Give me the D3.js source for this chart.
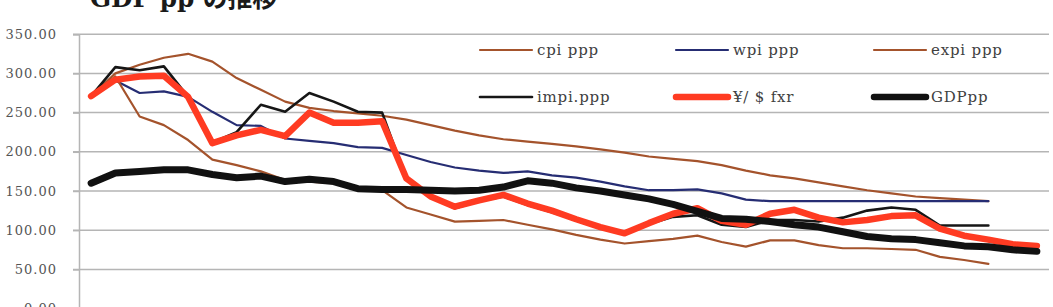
<!DOCTYPE html>
<html><head><meta charset="utf-8">
<script src="https://cdn.jsdelivr.net/npm/d3@7"></script>
<style>body{margin:0;background:#fff}svg{display:block}</style>
</head><body>
<svg id="c" width="1053" height="307"></svg>
<script>
const categories = d3.range(1970, 2010).map(String);
const cpi  = [271,300,311,320,325,315,294,279,264,256,252,249,246,241,234,227,221,216,213,210,207,203,199,194,191,188,183,176,170,166,161,156,151,147,143,141,139,137];
const wpi  = [271,291,275,277,270,251,234,233,217,214,211,206,205,196,187,180,176,173,175,170,167,162,156,151,151,152,147,139,137,137,137,137,137,137,137,137,137,137];
const expi = [271,296,245,234,215,190,183,175,164,162,160,155,151,129,120,111,112,113,107,101,94,88,83,86,89,93,85,79,87,87,81,77,77,76,75,66,62,57];
const impi = [271,308,304,309,270,212,225,260,251,275,264,251,250,165,142,128,137,143,132,123,113,103,95,108,117,119,107,104,113,113,111,116,125,129,126,106,106,106];
const fxr  = [271,292,296,297,270,211,221,228,220,250,237,237,239,166,143,130,138,145,134,125,114,104,96,109,121,128,112,107,121,126,116,110,113,118,119,102,93,88,82,80];
const gdp  = [160,173,175,177,177,171,167,169,162,165,162,153,152,152,151,150,151,155,163,160,154,150,145,140,133,124,115,114,111,107,104,98,92,89,88,84,80,79,75,73];
const yTicks = [0,50,100,150,200,250,300,350];
const seriesNames = ["cpi ppp","wpi ppp","expi ppp","impi.ppp","¥/ $ fxr","GDPpp"];

const series = [
  {name: seriesNames[0], values: cpi,  color: "#a4532c", width: 2.2},
  {name: seriesNames[1], values: wpi,  color: "#262d73", width: 2.2},
  {name: seriesNames[2], values: expi, color: "#a4532c", width: 2.2},
  {name: seriesNames[3], values: impi, color: "#161616", width: 2.6},
  {name: seriesNames[4], values: fxr,  color: "#ff3b22", width: 6.5},
  {name: seriesNames[5], values: gdp,  color: "#111111", width: 7}
];

const svg = d3.select("#c");
const pLeft = 79, pRight = 1049, pTop = 34.2, pBottom = 308.6;
const x = d3.scaleBand().domain(categories).range([pLeft, pRight]);
const y = d3.scaleLinear().domain([0, 350]).range([pBottom, pTop]);
const cx = i => x(categories[i]) + x.bandwidth() / 2;

// title (cut off at top)
svg.append("text").attr("x", 90).attr("y", 7)
  .attr("font-family", "'DejaVu Serif','Noto Sans CJK JP',serif")
  .attr("font-weight", "bold").attr("font-size", 26).attr("fill", "#1a1a1a")
  .attr("textLength", 187).attr("lengthAdjust", "spacingAndGlyphs")
  .text("GDP pp の推移");

// gridlines
svg.append("g").selectAll("line").data(yTicks.filter(d => d > 0)).join("line")
  .attr("x1", pLeft - 6).attr("x2", pRight)
  .attr("y1", d => y(d)).attr("y2", d => y(d))
  .attr("stroke", "#b5b5b5").attr("stroke-width", 1.5);

// y axis
const yAxis = d3.axisLeft(y).tickValues(yTicks).tickFormat(d3.format(".2f")).tickSize(6).tickPadding(16);
const ga = svg.append("g").attr("transform", `translate(${pLeft},0)`).call(yAxis);
ga.select(".domain").attr("stroke", "#b5b5b5").attr("stroke-width", 1.5);
ga.selectAll(".tick line").attr("stroke", "#b5b5b5").attr("stroke-width", 1.5);
ga.selectAll(".tick text").attr("font-family", "'DejaVu Serif',serif").attr("font-size", 13)
  .attr("letter-spacing", "1px").attr("fill", "#555");

// lines
const line = d3.line().x((d, i) => cx(i)).y(d => y(d));
svg.append("g").selectAll("path").data(series).join("path")
  .attr("d", d => line(d.values))
  .attr("fill", "none").attr("stroke", d => d.color).attr("stroke-width", d => d.width)
  .attr("stroke-linejoin", "round").attr("stroke-linecap", "round");

// legend
const legCols = [480, 676, 874];
const legRows = [50, 97];
const lg = svg.append("g").selectAll("g").data(series).join("g")
  .attr("transform", (d, i) => `translate(${legCols[i % 3]},${legRows[Math.floor(i / 3)]})`);
lg.append("line").attr("x1", 0).attr("x2", 52).attr("y1", 0).attr("y2", 0)
  .attr("stroke", d => d.color).attr("stroke-width", d => Math.min(d.width, 6.5)).attr("stroke-linecap", "round");
lg.append("text").attr("x", 57).attr("y", 0).attr("dy", "0.32em")
  .attr("font-family", "'DejaVu Serif',serif").attr("font-size", 15).attr("letter-spacing", "0.8px")
  .attr("fill", "#404040").text(d => d.name);
</script>
</body></html>
